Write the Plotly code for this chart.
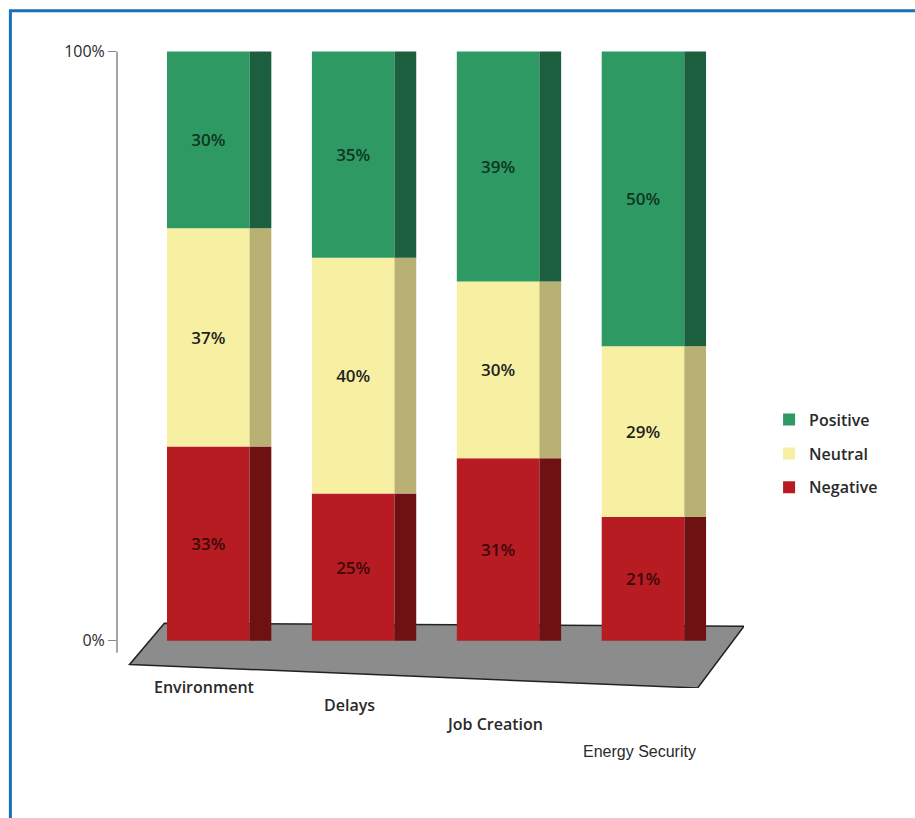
import plotly.graph_objects as go

categories = ["Environment", "Delays", "Job Creation", "Energy Security"]
negative = [33, 25, 31, 21]
neutral = [37, 40, 30, 29]
positive = [30, 35, 39, 50]

series = [
    ("Negative", negative, "#b71c22", "#6f1013", "#3d0808"),
    ("Neutral", neutral, "#f7f0a2", "#b9b073", "#1e1e1e"),
    ("Positive", positive, "#2f9963", "#1c5f3e", "#0d3522"),
]

FRONT_W, FRONT_OFF = 0.57, -0.362
SIDE_W, SIDE_OFF = 0.15, 0.208

fig = go.Figure()
base = [0] * len(categories)
for name, vals, front, side, txt in series:
    fig.add_trace(go.Bar(
        x=categories, y=vals, base=list(base), name=name,
        width=FRONT_W, offset=FRONT_OFF,
        marker=dict(color=front, line=dict(width=0)),
        text=[f"{v}%" for v in vals], textposition="inside",
        insidetextanchor="middle",
        textfont=dict(family="Open Sans", size=17, color=txt, weight=600),
        legendgroup=name, legendrank={"Positive": 1, "Neutral": 2, "Negative": 3}[name],
    ))
    fig.add_trace(go.Bar(
        x=categories, y=vals, base=list(base), name=name + " side",
        width=SIDE_W, offset=SIDE_OFF,
        marker=dict(color=side, line=dict(width=0)),
        showlegend=False, hoverinfo="skip",
    ))
    base = [b + v for b, v in zip(base, vals)]

# floor
fig.add_shape(type="path", xref="x", yref="y", layer="below",
              path="M -0.62 -4 L 3.3 -8 L 3.62 2.5 L -0.38 3 Z",
              fillcolor="#8c8c8c", line=dict(color="#222", width=1.5))
# y axis line
fig.add_shape(type="line", xref="paper", yref="y", x0=0, x1=0, y0=-2, y1=100,
              line=dict(color="#888", width=1.5))
# outer blue frame
fig.add_shape(type="rect", xref="paper", yref="paper",
              x0=-0.170, x1=1.30, y0=-0.22, y1=1.026,
              line=dict(color="#1a6fb5", width=3), fillcolor="rgba(0,0,0,0)")

shifts = [-46, -64, -83, -111]
fonts = ["Open Sans", "Open Sans", "Open Sans", "Liberation Sans"]
weights = [600, 600, 600, 400]
for i, c in enumerate(categories):
    fig.add_annotation(x=c, y=0, xref="x", yref="y", text=c, showarrow=False,
                       xshift=-15, yshift=shifts[i],
                       font=dict(family=fonts[i], size=16, color="#2a2a2a", weight=weights[i]))

fig.update_layout(
    width=915, height=818,
    margin=dict(l=117, r=171, t=28, b=130),
    barmode="overlay",
    paper_bgcolor="white", plot_bgcolor="white",
    showlegend=True,
    legend=dict(x=1.04, y=0.355, yanchor="middle", xanchor="left",
                font=dict(family="Open Sans", size=16, color="#2a2a2a", weight=600),
                tracegroupgap=10, bgcolor="rgba(0,0,0,0)"),
    xaxis=dict(range=[-0.707, 3.62], showticklabels=False, showgrid=False,
               zeroline=False, showline=False, ticks=""),
    yaxis=dict(range=[-8, 104], tickvals=[0, 100], ticktext=["0%", "100%"],
               ticks="outside", ticklen=8, tickcolor="#888", showgrid=False,
               zeroline=False, showline=False,
               tickfont=dict(family="Open Sans", size=16, color="#2a2a2a", weight=500)),
)

fig.write_html("out.html")
